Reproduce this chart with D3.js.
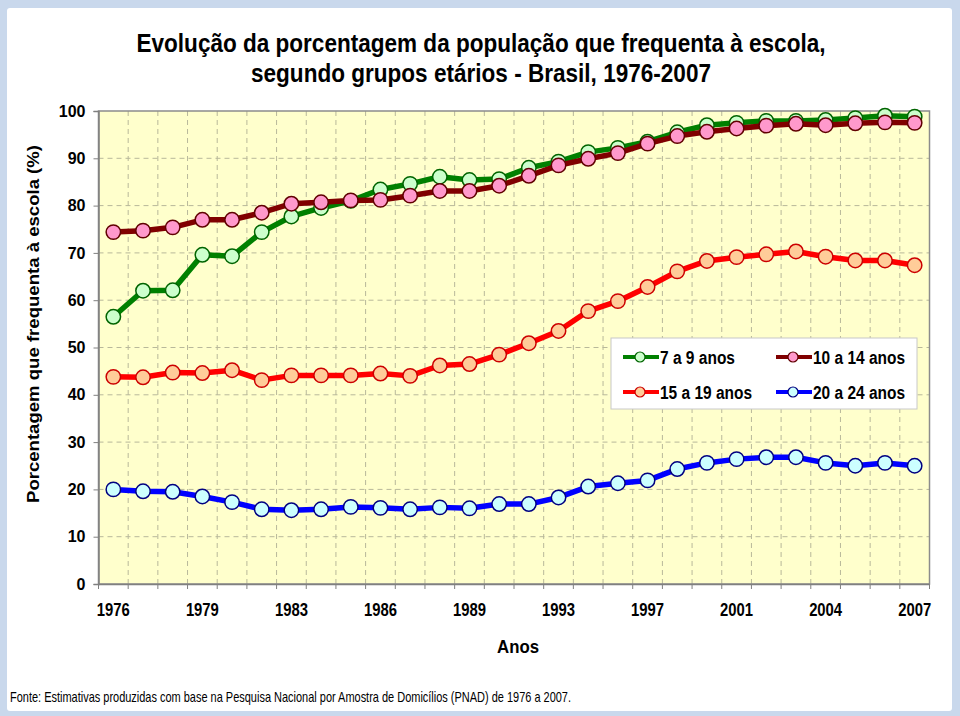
<!DOCTYPE html>
<html>
<head>
<meta charset="utf-8">
<script src="https://cdn.jsdelivr.net/npm/d3@7"></script>
<style>
  html, body { margin: 0; padding: 0; background: #fff; }
  svg { display: block; }
</style>
</head>
<body>
<svg id="chart" width="960" height="716"></svg>
<script>
// ---------- DATA ----------
const years = ["1976","1977","1978","1979","1981","1982","1983","1984","1985","1986",
  "1987","1988","1989","1990","1992","1993","1995","1996","1997","1998",
  "1999","2001","2002","2003","2004","2005","2006","2007"];
const tickYears = ["1976","1979","1983","1986","1989","1993","1997","2001","2004","2007"];
const yTicks = [0,10,20,30,40,50,60,70,80,90,100];

const seriesNames = ["7 a 9 anos","10 a 14 anos","15 a 19 anos","20 a 24 anos"];
const age7to9 = [56.5,62.0,62.1,69.6,69.3,74.4,77.7,79.5,81.0,83.4,84.6,86.1,85.4,85.6,88.0,89.3,91.3,92.2,93.5,95.5,97.0,97.5,97.9,97.9,98.1,98.5,99.0,98.8];
const age10to14 = [74.4,74.7,75.4,77.0,77.0,78.5,80.4,80.7,81.1,81.2,82.1,83.1,83.1,84.2,86.3,88.5,89.9,91.1,93.1,94.7,95.6,96.3,96.9,97.3,97.0,97.4,97.6,97.5];
const age15to19 = [43.8,43.7,44.7,44.6,45.2,43.1,44.1,44.1,44.1,44.5,44.0,46.2,46.5,48.5,50.9,53.5,57.7,59.8,62.8,66.1,68.3,69.1,69.7,70.3,69.2,68.4,68.4,67.4];
const age20to24 = [20.0,19.6,19.5,18.5,17.3,15.8,15.6,15.8,16.3,16.1,15.8,16.2,16.0,16.9,16.9,18.3,20.6,21.3,21.9,24.3,25.6,26.4,26.8,26.8,25.6,25.0,25.6,25.0];

const lineColors = ["#008000","#800000","#ff0000","#0000ff"];
const fillColors = ["#ccffcc","#ff99cc","#ffcc99","#ccffff"];
const strokeColors = ["#006400","#600000","#cc0000","#000080"];
const allSeries = [age7to9, age10to14, age15to19, age20to24];

// ---------- LAYOUT ----------
const FONT = "'Liberation Sans', Arial, Helvetica, sans-serif";
const svg = d3.select("#chart");
const W = 960, H = 716;
const plot = {left: 98.5, right: 929.5, top: 111, bottom: 584};

function narrow(sel, width) {
  sel.attr("textLength", width).attr("lengthAdjust", "spacingAndGlyphs");
  return sel;
}

// outer frame
svg.append("rect").attr("x",0).attr("y",0).attr("width",W).attr("height",H).attr("fill","#c9d8ec");
svg.append("rect").attr("x",7).attr("y",8).attr("width",W-15).attr("height",H-13)
  .attr("fill","#ffffff").attr("rx",3);

const x = d3.scaleBand().domain(years).range([plot.left, plot.right]).padding(0);
const y = d3.scaleLinear().domain([0,100]).range([plot.bottom, plot.top]);

// plot background
svg.append("rect").attr("x",plot.left).attr("y",plot.top)
  .attr("width",plot.right-plot.left).attr("height",plot.bottom-plot.top)
  .attr("fill","#ffffcc");

// horizontal grid
svg.append("g").selectAll("line").data(yTicks.filter(v => v>0 && v<100)).join("line")
  .attr("x1",plot.left).attr("x2",plot.right)
  .attr("y1",d=>y(d)).attr("y2",d=>y(d))
  .attr("stroke","#b8b89a").attr("stroke-width",1).attr("stroke-dasharray","5,4");

// vertical grid at category boundaries
svg.append("g").selectAll("line").data(years.slice(1)).join("line")
  .attr("x1",d=>x(d)).attr("x2",d=>x(d))
  .attr("y1",plot.top).attr("y2",plot.bottom)
  .attr("stroke","#b8b89a").attr("stroke-width",1).attr("stroke-dasharray","5,4");

// plot border
svg.append("rect").attr("x",plot.left).attr("y",plot.top)
  .attr("width",plot.right-plot.left).attr("height",plot.bottom-plot.top)
  .attr("fill","none").attr("stroke","#8c8c8c").attr("stroke-width",1.5);

// Y axis
const yAxis = d3.axisLeft(y).tickValues(yTicks).tickSize(5).tickPadding(8).tickFormat(d3.format("d"));
const gy = svg.append("g").attr("transform",`translate(${plot.left},0)`).call(yAxis);
gy.select(".domain").attr("stroke","#808080").attr("stroke-width",1.5);
gy.selectAll(".tick line").attr("stroke","#808080");
gy.selectAll(".tick text").style("font-family",FONT).attr("font-size",16).attr("font-weight","bold").attr("fill","#000");

// X axis
const xAxis = d3.axisBottom(x).tickValues(tickYears).tickSize(0).tickPadding(19);
const gx = svg.append("g").attr("transform",`translate(0,${plot.bottom})`).call(xAxis);
gx.select(".domain").attr("stroke","#808080").attr("stroke-width",1.5);
gx.selectAll(".tick text").style("font-family",FONT).attr("font-size",18).attr("font-weight","bold").attr("fill","#000")
  .attr("textLength",33).attr("lengthAdjust","spacingAndGlyphs");
// tick marks at category boundaries
svg.append("g").selectAll("line").data(years.concat(["__end"])).join("line")
  .attr("x1",(d,i)=> i<years.length ? x(d) : plot.right)
  .attr("x2",(d,i)=> i<years.length ? x(d) : plot.right)
  .attr("y1",plot.bottom).attr("y2",plot.bottom+5)
  .attr("stroke","#808080").attr("stroke-width",1);

// series
const line = d3.line().x((d,i)=>x(years[i]) + x.bandwidth()/2).y(d=>y(d));
allSeries.forEach((vals,si) => {
  const g = svg.append("g");
  g.append("path").datum(vals).attr("d",line).attr("fill","none")
    .attr("stroke",lineColors[si]).attr("stroke-width",5.5).attr("stroke-linejoin","round");
  g.selectAll("circle").data(vals).join("circle")
    .attr("cx",(d,i)=>x(years[i]) + x.bandwidth()/2).attr("cy",d=>y(d)).attr("r",7.2)
    .attr("fill",fillColors[si]).attr("stroke",strokeColors[si]).attr("stroke-width",1.5);
});

// Legend
const lg = svg.append("g");
lg.append("rect").attr("x",611).attr("y",338).attr("width",306).attr("height",71)
  .attr("fill","#ffffff").attr("stroke","#c8c8c8").attr("stroke-width",1);
const legendPos = [[623,357],[776,357],[623,392],[776,392]];
const legendTextW = [75,92,92,92];
seriesNames.forEach((name,si)=>{
  const [lx,ly] = legendPos[si];
  lg.append("line").attr("x1",lx).attr("x2",lx+36).attr("y1",ly).attr("y2",ly)
    .attr("stroke",lineColors[si]).attr("stroke-width",4);
  lg.append("circle").attr("cx",lx+17).attr("cy",ly).attr("r",5)
    .attr("fill",fillColors[si]).attr("stroke",strokeColors[si]).attr("stroke-width",1.2);
  narrow(lg.append("text").style("font-family",FONT).attr("x",lx+37).attr("y",ly+6.5)
    .attr("font-size",18).attr("font-weight","bold").text(name), legendTextW[si]);
});

// Titles
narrow(svg.append("text").style("font-family",FONT).attr("x",481).attr("y",52).attr("text-anchor","middle")
  .attr("font-size",26).attr("font-weight","bold")
  .text("Evolução da porcentagem da população que frequenta à escola,"), 689);
narrow(svg.append("text").style("font-family",FONT).attr("x",481).attr("y",82).attr("text-anchor","middle")
  .attr("font-size",26).attr("font-weight","bold")
  .text("segundo grupos etários - Brasil, 1976-2007"), 460);

narrow(svg.append("text").style("font-family",FONT).attr("transform","translate(39,324) rotate(-90)")
  .attr("text-anchor","middle").attr("font-size",17).attr("font-weight","bold")
  .text("Porcentagem que frequenta à escola (%)"), 358);

narrow(svg.append("text").style("font-family",FONT).attr("x",518).attr("y",653).attr("text-anchor","middle")
  .attr("font-size",19).attr("font-weight","bold").text("Anos"), 42);

narrow(svg.append("text").style("font-family",FONT).attr("x",10).attr("y",702)
  .attr("font-size",14.5)
  .text("Fonte: Estimativas produzidas com base na Pesquisa Nacional por Amostra de Domicílios (PNAD) de 1976 a 2007."), 561);
</script>
</body>
</html>
